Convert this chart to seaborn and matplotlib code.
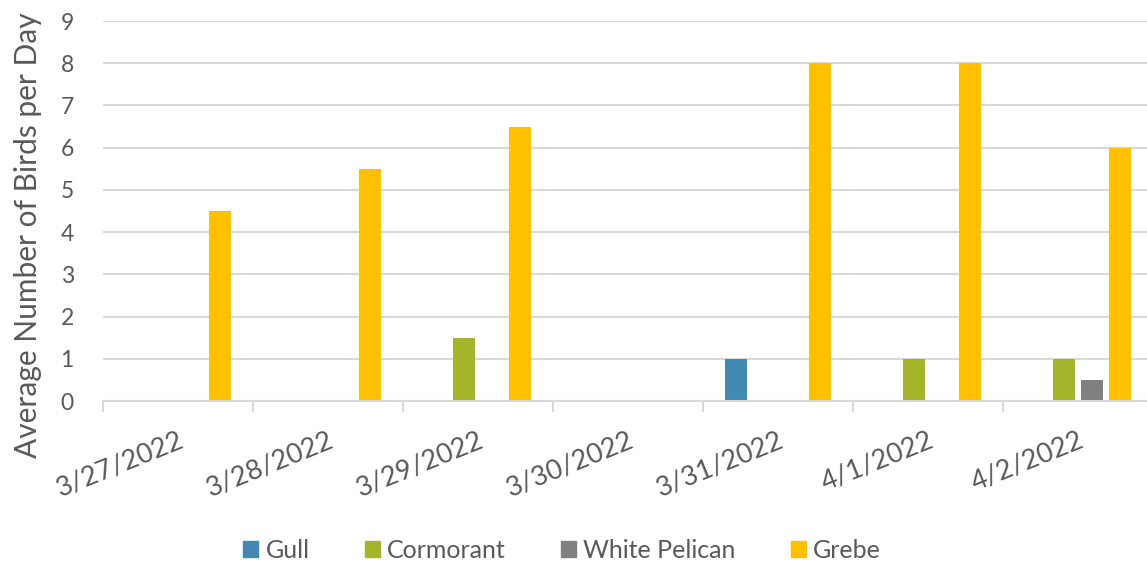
import pandas as pd
import matplotlib.pyplot as plt
import seaborn as sns

# Dados
datas = ['3/27/2022', '3/28/2022', '3/29/2022', '3/30/2022', '3/31/2022', '4/1/2022', '4/2/2022']
gull = [0, 0, 0, 0, 1, 0, 0]
cormorant = [0, 0, 1.5, 0, 0, 1, 1]
white_pelican = [0, 0, 0, 0, 0, 0, 0.5]
grebe = [4.5, 5.5, 6.5, 0, 8, 8, 6]

especies = ['Gull', 'Cormorant', 'White Pelican', 'Grebe']
cores = ['#4288B1', '#A5B52B', '#808080', '#FFC000']

df = pd.DataFrame({'Data': datas, 'Gull': gull, 'Cormorant': cormorant,
                   'White Pelican': white_pelican, 'Grebe': grebe})
dfx = df.melt(id_vars='Data', var_name='Especie', value_name='Media')

sns.set_style('white')
plt.rcParams['font.family'] = ['Lato', 'DejaVu Sans']
cinza = '#595959'

fig = plt.figure(figsize=(11.47, 5.63), dpi=100)
ax = fig.add_axes([103 / 1147, 1 - 401 / 563, 1 - 103 / 1147, (401 - 21) / 563])

sns.barplot(data=dfx, x='Data', y='Media', hue='Especie', hue_order=especies,
            palette=cores, width=0.75, gap=0.22, linewidth=0, saturation=1,
            ax=ax, legend=False)

ax.set_ylim(0, 9)
ax.set_xlim(-0.5, 6.46)
ax.set_yticks(range(10))
ax.yaxis.grid(True, color='#D9D9D9', linewidth=1.5)
ax.set_axisbelow(True)
for s in ['top', 'right', 'left']:
    ax.spines[s].set_visible(False)
ax.spines['bottom'].set_color('#D9D9D9')
ax.spines['bottom'].set_linewidth(1.5)

# marcas entre as categorias
ax.set_xticks([i - 0.5 for i in range(7)], minor=True)
ax.tick_params(axis='x', which='minor', length=8, width=1.5, color='#D9D9D9', direction='out', bottom=True)
ax.tick_params(axis='x', which='major', length=0, pad=19, labelsize=19.5, labelcolor=cinza)
ax.tick_params(axis='y', length=0, pad=21, labelsize=16.5, labelcolor=cinza)
ax.set_xticks(range(7))
ax.set_xticklabels(datas, rotation=22, ha='right', rotation_mode='anchor')

ax.set_xlabel('')
ax.set_ylabel('Average Number of Birds per Day', fontsize=21.5, color=cinza)
ax.yaxis.set_label_coords((42 - 103) / 1044, (401 - 235) / 380)

handles = [plt.Rectangle((0, 0), 1, 1, color=c) for c in cores]
fig.legend(handles, especies, loc='center', bbox_to_anchor=(0.49, 1 - 550 / 563), ncol=4,
           frameon=False, fontsize=18, handlelength=0.6, handleheight=0.6,
           handletextpad=0.3, columnspacing=2.2, labelcolor=cinza)

plt.savefig('out.png', dpi=100)
